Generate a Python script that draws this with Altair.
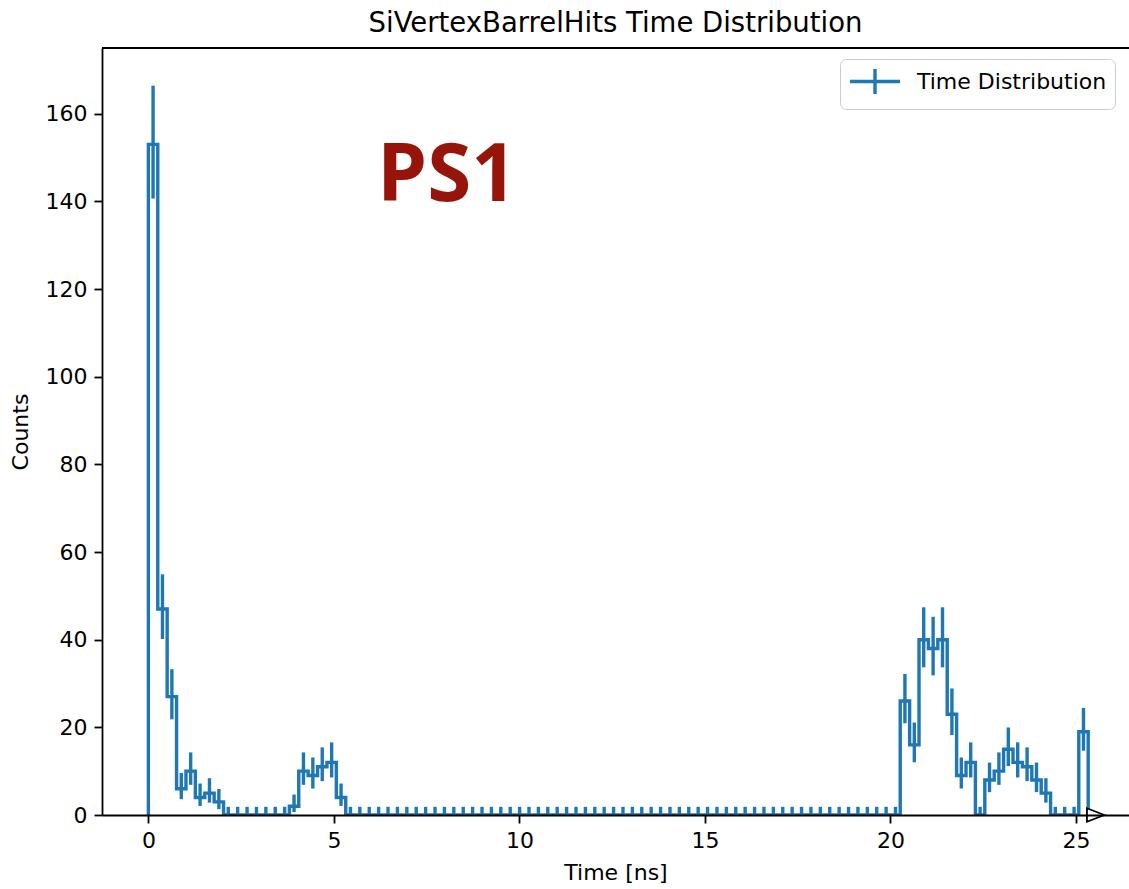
import altair as alt
import numpy as np
import pandas as pd

TITLE = "SiVertexBarrelHits Time Distribution"
X_TITLE = "Time [ns]"
Y_TITLE = "Counts"
SERIES_NAME = "Time Distribution"

# annotation text placed in data coordinates (ns, counts)
ANNOT_TEXT = ["PS1"]
ANNOT_X = [8.05]
ANNOT_Y = [140.0]

# histogram: 100 equal bins over this range
HIST_RANGE = [0.0, 25.33]
COUNTS = [
    153, 47, 27, 6, 10, 4, 5, 3, 0, 0,
    0, 0, 0, 0, 0, 2, 10, 9, 11, 12,
    4, 0, 0, 0, 0, 0, 0, 0, 0, 0,
    0, 0, 0, 0, 0, 0, 0, 0, 0, 0,
    0, 0, 0, 0, 0, 0, 0, 0, 0, 0,
    0, 0, 0, 0, 0, 0, 0, 0, 0, 0,
    0, 0, 0, 0, 0, 0, 0, 0, 0, 0,
    0, 0, 0, 0, 0, 0, 0, 0, 0, 0,
    26, 16, 40, 38, 40, 23, 9, 12, 0, 8,
    10, 15, 12, 11, 8, 5, 0, 0, 0, 19,
]

# overflow hint marker (right of last bin, on the baseline)
OVERFLOW_X = [25.53]
OVERFLOW_Y = [0.0]

X_TICKS = [0, 5, 10, 15, 20, 25]
Y_TICKS = [0, 20, 40, 60, 80, 100, 120, 140, 160]
X_DOMAIN = [-1.25, 26.43]
Y_DOMAIN = [0, 175]

# ---------------------------------------------------------------
counts = np.array(COUNTS, dtype=float)
edges = np.linspace(HIST_RANGE[0], HIST_RANGE[1], len(COUNTS) + 1)
centers = 0.5 * (edges[:-1] + edges[1:])

# Poisson (Gehrels) error interval
lo = np.where(counts > 0, counts - np.sqrt(np.clip(counts - 0.25, 0, None)), 0.0)
hi = counts + np.sqrt(counts + 0.75) + 1.0

step_t = [edges[0]] + list(edges[:-1]) + [edges[-1], edges[-1]]
step_c = [0.0] + list(counts) + [counts[-1], 0.0]
step_df = pd.DataFrame({
    "t": step_t,
    "c": step_c,
    "k": list(range(len(step_t))),
    "series": SERIES_NAME,
})
err_df = pd.DataFrame({"t": centers, "lo": lo, "hi": hi})
ann_df = pd.DataFrame({"x": ANNOT_X, "y": ANNOT_Y, "label": ANNOT_TEXT})
ovf_df = pd.DataFrame({"x": OVERFLOW_X, "y": OVERFLOW_Y})

W, H = 1027, 767
BLUE = "#1f77b4"
FONT = "DejaVu Sans"
LW = 3.4
AXW = 1.8

x_scale = alt.Scale(domain=X_DOMAIN, nice=False, zero=False)
y_scale = alt.Scale(domain=Y_DOMAIN, nice=False, zero=False)

common_axis = dict(
    grid=False, zindex=1, domainColor="black", domainWidth=AXW,
    tickColor="black", tickWidth=AXW, tickSize=8,
    labelFont=FONT, labelFontSize=22, labelColor="black", labelPadding=7,
    titleFont=FONT, titleFontSize=22, titleFontWeight="normal", titleColor="black",
    format="d",
)
x_axis = alt.Axis(values=X_TICKS, title=X_TITLE, titlePadding=11, labelFlush=False, **common_axis)
y_axis = alt.Axis(values=Y_TICKS, title=Y_TITLE, titlePadding=13, labelFlush=False, **common_axis)

legend = alt.Legend(
    title=None, orient="none", legendX=738, legendY=11,
    symbolType="M-1,0L3,0M1,-1L1,1", symbolSize=625,
    symbolStrokeWidth=LW, symbolFillColor="transparent",
    labelFont=FONT, labelFontSize=22, labelColor="black", labelOffset=40,
    labelLimit=1000,
    padding=8, strokeColor="#cccccc", fillColor="white", cornerRadius=6,
)

step = alt.Chart(step_df).mark_line(
    interpolate="step-after", strokeWidth=LW, clip=True
).encode(
    x=alt.X("t:Q", scale=x_scale, axis=x_axis),
    y=alt.Y("c:Q", scale=y_scale, axis=y_axis),
    order="k:Q",
    color=alt.Color("series:N", scale=alt.Scale(domain=[SERIES_NAME], range=[BLUE]), legend=legend),
)

errs = alt.Chart(err_df).mark_rule(color=BLUE, strokeWidth=LW, clip=True).encode(
    x=alt.X("t:Q", scale=x_scale),
    y=alt.Y("lo:Q", scale=y_scale),
    y2="hi:Q",
)

top_spine = alt.Chart(pd.DataFrame({"a": [0]})).mark_rule(color="black", strokeWidth=AXW).encode(
    x=alt.value(0), x2=alt.value(W), y=alt.value(0)
)

ann = alt.Chart(ann_df).mark_text(
    font="Open Sans", fontWeight="bold", fontSize=80, color="#96140A",
    align="center", baseline="alphabetic",
).encode(
    x=alt.X("x:Q", scale=x_scale),
    y=alt.Y("y:Q", scale=y_scale),
    text="label:N",
)

ovf = alt.Chart(ovf_df).mark_point(
    shape="M1,0L-1,-0.78L-1,0.78Z", size=300, filled=True,
    fill="white", stroke="black", strokeWidth=1.8, opacity=1,
).encode(
    x=alt.X("x:Q", scale=x_scale),
    y=alt.Y("y:Q", scale=y_scale),
)

chart = alt.layer(step, errs, top_spine, ann, ovf).properties(
    width=W, height=H,
    title=alt.TitleParams(TITLE, font=FONT, fontSize=27.5, fontWeight="normal",
                          color="black", anchor="middle", offset=10),
    autosize=alt.AutoSizeParams(type="none"),
    padding={"left": 102, "top": 48, "right": 0, "bottom": 74},
).configure_view(stroke=None)

chart.save("out.html", embed_options={"renderer": "svg", "actions": False})
